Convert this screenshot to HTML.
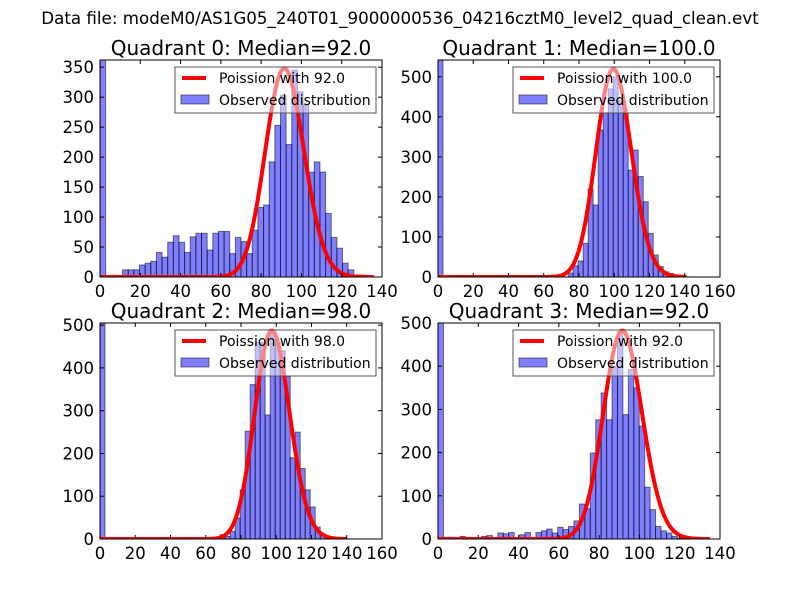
<!DOCTYPE html>
<html><head><meta charset="utf-8"><style>
html,body{margin:0;padding:0;background:#fff}
svg{display:block;font-family:"DejaVu Sans","Liberation Sans",sans-serif}
</style></head><body>
<svg id="fig" width="800" height="600" viewBox="0 0 800 600">
<rect width="800" height="600" fill="#fff"/>
<text x="400" y="24" text-anchor="middle" font-size="16.7">Data file: modeM0/AS1G05_240T01_9000000536_04216cztM0_level2_quad_clean.evt</text>
</svg>
<script>
// Quadrant 0
const q0Counts = [362,0,3,0,12,12,12,20,23,26,41,33,58,69,58,41,67,73,73,45,73,76,76,39,66,59,39,78,116,120,192,253,303,221,345,309,287,175,192,175,106,66,48,23,12,3,3,0,0];
const q0BinWidth = [2.8];
const q0Lambda = [92.0];
const q0Peak = [348];
const q0XTicks = [0,20,40,60,80,100,120,140];
const q0YTicks = [0,50,100,150,200,250,300,350];
// Quadrant 1
const q1Counts = [545,0,0,0,0,0,0,0,0,0,0,0,0,0,0,0,0,0,3,0,0,3,3,0,0,0,10,28,40,84,220,180,367,410,470,500,440,410,267,317,251,188,109,55,26,13,9,3,0,0];
const q1BinWidth = [2.84];
const q1Lambda = [100.0];
const q1Peak = [520];
const q1XTicks = [0,20,40,60,80,100,120,140,160];
const q1YTicks = [0,100,200,300,400,500];
// Quadrant 2
const q2Counts = [505,0,0,0,0,0,0,0,0,0,0,0,0,0,0,0,0,0,3,0,3,0,0,3,10,6,18,49,115,252,361,460,460,290,485,460,440,380,190,250,165,115,75,28,12,5,2,0,0];
const q2BinWidth = [2.84];
const q2Lambda = [98.0];
const q2Peak = [487];
const q2XTicks = [0,20,40,60,80,100,120,140,160];
const q2YTicks = [0,100,200,300,400,500];
// Quadrant 3
const q3Counts = [500,4,4,0,6,4,0,0,6,8,0,14,12,15,0,10,15,0,15,19,23,14,27,22,29,42,81,70,199,276,338,276,400,480,288,392,350,261,120,68,29,19,14,6,2,0,0,0,0,0];
const q3BinWidth = [2.7];
const q3Lambda = [92.0];
const q3Peak = [482];
const q3XTicks = [0,20,40,60,80,100,120,140];
const q3YTicks = [0,100,200,300,400,500];

const NS='http://www.w3.org/2000/svg';
const fig=document.getElementById('fig');
function mk(tag,attrs,parent){const e=document.createElementNS(NS,tag);for(const k in attrs)e.setAttribute(k,attrs[k]);(parent||fig).appendChild(e);return e;}
function lnfact(k){let s=0;for(let i=2;i<=k;i++)s+=Math.log(i);return s;}

const panels=[
 {id:0,x0:100,x1:382,y0:60,y1:277,xmax:140,ymax:362,counts:q0Counts,bw:q0BinWidth[0],lam:q0Lambda[0],peak:q0Peak[0],xt:q0XTicks,yt:q0YTicks,xend:136},
 {id:1,x0:438,x1:720,y0:60,y1:277,xmax:160,ymax:542,counts:q1Counts,bw:q1BinWidth[0],lam:q1Lambda[0],peak:q1Peak[0],xt:q1XTicks,yt:q1YTicks,xend:141},
 {id:2,x0:100,x1:382,y0:323,y1:539,xmax:160,ymax:505,counts:q2Counts,bw:q2BinWidth[0],lam:q2Lambda[0],peak:q2Peak[0],xt:q2XTicks,yt:q2YTicks,xend:140},
 {id:3,x0:438,x1:720,y0:323,y1:539,xmax:140,ymax:500,counts:q3Counts,bw:q3BinWidth[0],lam:q3Lambda[0],peak:q3Peak[0],xt:q3XTicks,yt:q3YTicks,xend:135}
];
panels.forEach(p=>{
  const g=mk('g',{});
  
  
  const X=v=>p.x0+(p.x1-p.x0)*v/p.xmax;
  const Y=v=>p.y1-(p.y1-p.y0)*v/p.ymax;
  const cp=mk('clipPath',{id:'clip'+p.id},g);
  mk('rect',{x:p.x0,y:p.y0,width:p.x1-p.x0,height:p.y1-p.y0},cp);
  const plot=mk('g',{'clip-path':'url(#clip'+p.id+')'},g);
  // bars
  p.counts.forEach((c,i)=>{
    if(c<=0)return;
    const bx=X(i*p.bw), bx2=X((i+1)*p.bw);
    const r=mk('rect',{x:bx,y:Y(c),width:bx2-bx,height:Y(0)-Y(c),fill:'#0000ff','fill-opacity':0.5,stroke:'#000','stroke-opacity':0.5,'stroke-width':1},plot);
    
    
  });
  // poisson curve
  const logMode=p.lam*Math.log(p.lam)-p.lam-lnfact(Math.floor(p.lam));
  let d='';
  for(let k=0;k<=p.xend;k++){
    const lp=k*Math.log(p.lam)-p.lam-lnfact(k);
    const v=p.peak*Math.exp(lp-logMode);
    d+=(k?'L':'M')+X(k).toFixed(2)+' '+Y(v).toFixed(2);
  }
  const curve=mk('path',{d:d,fill:'none',stroke:'#ff0000','stroke-width':4,'stroke-linejoin':'round'},plot);
  
  
  // frame
  mk('rect',{x:p.x0,y:p.y0,width:p.x1-p.x0,height:p.y1-p.y0,fill:'none',stroke:'#000','stroke-width':1},g);
  // ticks
  p.xt.forEach(t=>{
    const x=X(t);
    mk('line',{x1:x,x2:x,y1:p.y1,y2:p.y1-4,stroke:'#000'},g);
    mk('line',{x1:x,x2:x,y1:p.y0,y2:p.y0+4,stroke:'#000'},g);
    const tx=mk('text',{x:x,y:p.y1+20,'text-anchor':'middle','font-size':16.5},g);
    tx.textContent=t;
    
    
  });
  p.yt.forEach(t=>{
    const y=Y(t);
    mk('line',{x1:p.x0,x2:p.x0+4,y1:y,y2:y,stroke:'#000'},g);
    mk('line',{x1:p.x1,x2:p.x1-4,y1:y,y2:y,stroke:'#000'},g);
    const tx=mk('text',{x:p.x0-6,y:y+6,'text-anchor':'end','font-size':16.5},g);
    tx.textContent=t;
    
    
  });
  // title
  const med=['92.0','100.0','98.0','92.0'][p.id];
  const tt=mk('text',{x:(p.x0+p.x1)/2,y:p.y0-5,'text-anchor':'middle','font-size':20},g);
  tt.textContent='Quadrant '+p.id+': Median='+med;
  
  
  // legend
  const lx=p.x0+75, ly=p.y0+7;
  const lg=mk('g',{},g);
  
  
  mk('rect',{x:lx,y:ly,width:201,height:46,fill:'#fff','fill-opacity':0.5,stroke:'#555','stroke-width':1},lg);
  mk('line',{x1:lx+7,x2:lx+31,y1:ly+11,y2:ly+11,stroke:'#ff0000','stroke-width':4},lg);
  const t1=mk('text',{x:lx+44,y:ly+16,'font-size':14},lg);
  t1.textContent='Poission with '+p.lam.toFixed(1);
  mk('rect',{x:lx+6,y:ly+28,width:28,height:9,fill:'#0000ff','fill-opacity':0.5,stroke:'#000','stroke-opacity':0.5},lg);
  const t2=mk('text',{x:lx+44,y:ly+38,'font-size':14},lg);
  t2.textContent='Observed distribution';
});
</script>
</body></html>
